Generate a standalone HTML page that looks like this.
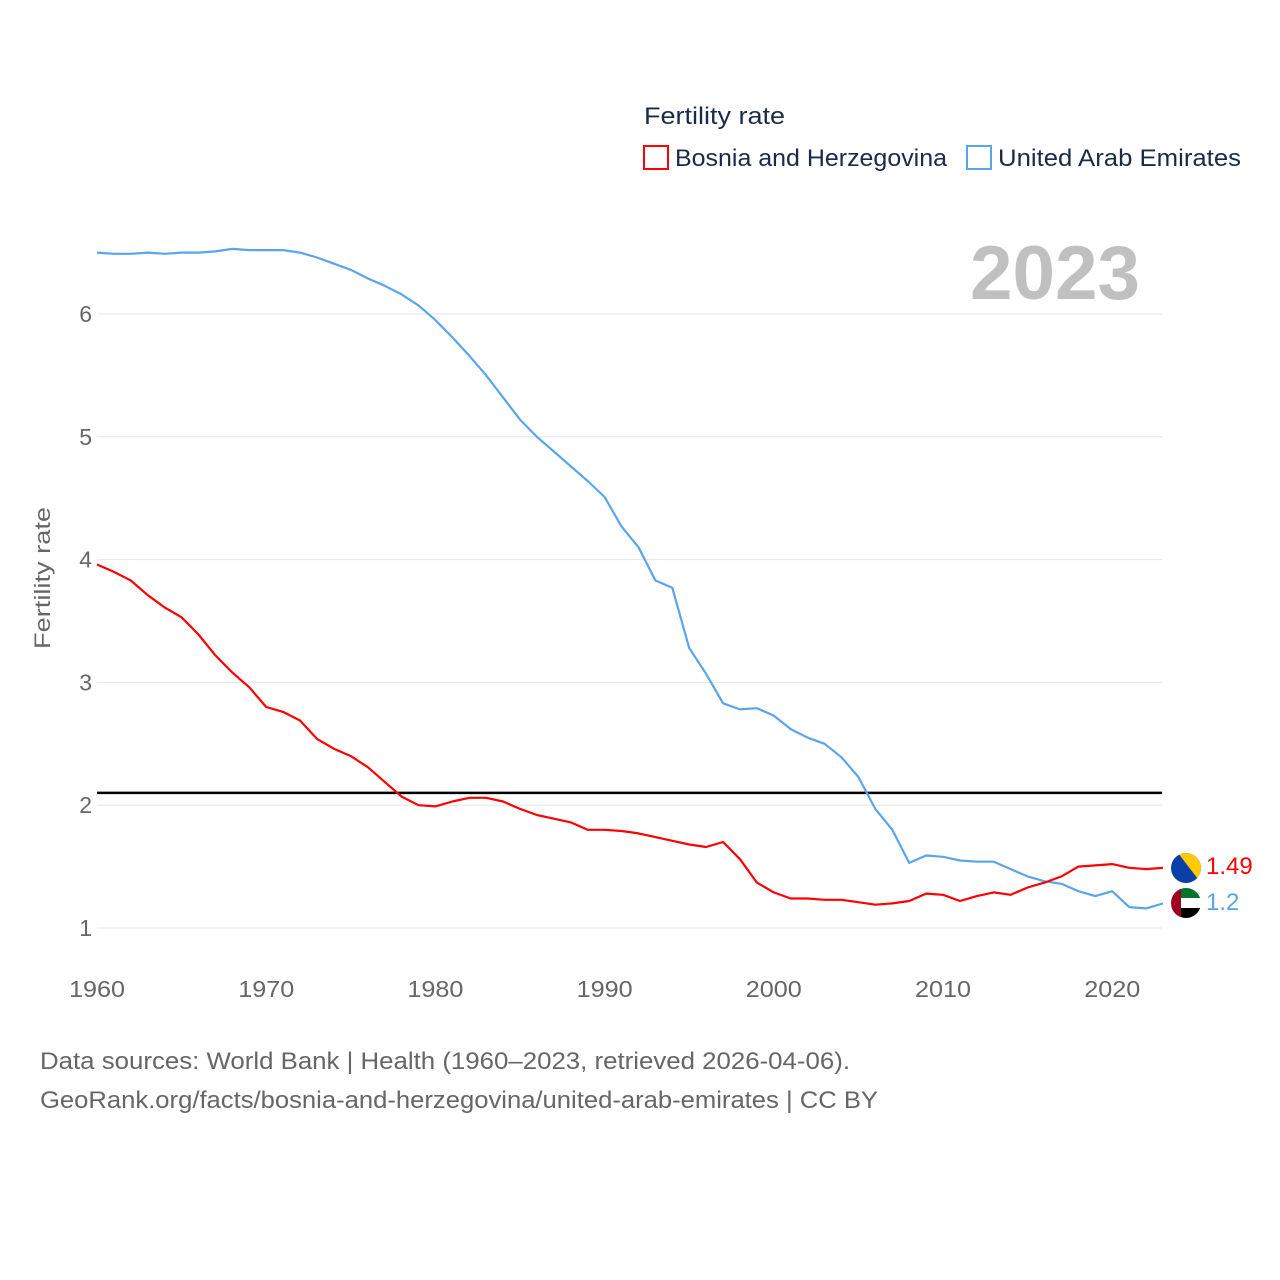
<!DOCTYPE html>
<html><head><meta charset="utf-8"><style>
html,body{margin:0;padding:0;background:#fff;}
svg{display:block;font-family:"Liberation Sans",sans-serif;}
</style></head><body>
<svg id="chart" width="1280" height="1280" viewBox="0 0 1280 1280">
<g id="grid"></g>
<g id="yticks"></g>
<g id="xticks"></g>
<text x="1140" y="299" text-anchor="end" font-size="76" font-weight="bold" fill="#c0c0c0" textLength="170" lengthAdjust="spacingAndGlyphs">2023</text>
<text transform="translate(50,578) rotate(-90)" text-anchor="middle" font-size="22" fill="#666" textLength="142" lengthAdjust="spacingAndGlyphs">Fertility rate</text>
<line id="refline" stroke="#000" stroke-width="2.5"></line>
<g id="series"></g>
<g>
<text x="644" y="124" font-size="24" fill="#1a2b4a" textLength="141" lengthAdjust="spacingAndGlyphs">Fertility rate</text>
<rect x="644" y="146" width="24" height="23" fill="none" stroke="#f00" stroke-width="2"></rect>
<text x="675" y="166" font-size="24" fill="#1a2b4a" textLength="272" lengthAdjust="spacingAndGlyphs">Bosnia and Herzegovina</text>
<rect x="967" y="146" width="24" height="23" fill="none" stroke="#5aa5ea" stroke-width="2"></rect>
<text x="998" y="166" font-size="24" fill="#1a2b4a" textLength="243" lengthAdjust="spacingAndGlyphs">United Arab Emirates</text>
</g>
<g>
<clipPath id="c1"><circle cx="1186" cy="868" r="15"/></clipPath>
<g clip-path="url(#c1)"><rect x="1171" y="853" width="30" height="30" fill="#0a3fa8"/><polygon points="1178,853 1201,853 1201,883" fill="#fecb00"/></g>
</g>
<g>
<clipPath id="c2"><circle cx="1186" cy="903" r="15"/></clipPath>
<g clip-path="url(#c2)"><rect x="1171" y="888" width="30" height="10" fill="#00732f"/><rect x="1171" y="898" width="30" height="10" fill="#fff"/><rect x="1171" y="908" width="30" height="10" fill="#000"/><rect x="1171" y="888" width="10" height="30" fill="#a00020"/></g>
</g>
<text id="lblB" x="1206" y="874" font-size="24" fill="#f00">1.49</text>
<text id="lblU" x="1206" y="910" font-size="24" fill="#5aa5ea">1.2</text>
<text x="40" y="1069" font-size="24" fill="#666" textLength="810" lengthAdjust="spacingAndGlyphs">Data sources: World Bank | Health (1960–2023, retrieved 2026-04-06).</text>
<text x="40" y="1108" font-size="24" fill="#666" textLength="838" lengthAdjust="spacingAndGlyphs">GeoRank.org/facts/bosnia-and-herzegovina/united-arab-emirates | CC BY</text>
</svg>
<script>
const years = [];
for (let y = 1960; y <= 2023; y++) years.push(y);
const bosnia = [3.96,3.90,3.83,3.71,3.61,3.53,3.39,3.22,3.08,2.96,2.80,2.76,2.69,2.54,2.46,2.40,2.31,2.19,2.07,2.00,1.99,2.03,2.06,2.06,2.03,1.97,1.92,1.89,1.86,1.80,1.80,1.79,1.77,1.74,1.71,1.68,1.66,1.70,1.56,1.37,1.29,1.24,1.24,1.23,1.23,1.21,1.19,1.20,1.22,1.28,1.27,1.22,1.26,1.29,1.27,1.33,1.37,1.42,1.50,1.51,1.52,1.49,1.48,1.49];
const uae = [6.50,6.49,6.49,6.50,6.49,6.50,6.50,6.51,6.53,6.52,6.52,6.52,6.50,6.46,6.41,6.36,6.29,6.23,6.16,6.07,5.95,5.81,5.66,5.50,5.32,5.14,5.00,4.88,4.76,4.64,4.51,4.27,4.10,3.83,3.77,3.28,3.07,2.83,2.78,2.79,2.73,2.62,2.55,2.50,2.39,2.23,1.97,1.80,1.53,1.59,1.58,1.55,1.54,1.54,1.48,1.42,1.38,1.36,1.30,1.26,1.30,1.17,1.16,1.20];
const yTicks = [1,2,3,4,5,6];
const xTicks = [1960,1970,1980,1990,2000,2010,2020];
const refValue = 2.1;
const NS = "http://www.w3.org/2000/svg";
const X = yr => 97 + (yr - 1960) * (1163 - 97) / 63;
const Y = v => 928 - (v - 1) * (928 - 314) / 5;
function mk(tag, attrs, parent) { const e = document.createElementNS(NS, tag); for (const k in attrs) e.setAttribute(k, attrs[k]); parent.appendChild(e); return e; }
const grid = document.getElementById('grid'), yt = document.getElementById('yticks'), xt = document.getElementById('xticks');
yTicks.forEach(t => {
  const l = mk('line', {x1: 97, x2: 1162, y1: Y(t), y2: Y(t), stroke: '#e6e6e6', 'stroke-width': 1}, grid);
  
  
  const tx = mk('text', {x: 92, y: Y(t) + 8, 'text-anchor': 'end', 'font-size': 23, fill: '#666'}, yt);
  tx.textContent = t;
  
  
});
xTicks.forEach(t => {
  const tx = mk('text', {x: X(t), y: 997, 'text-anchor': 'middle', 'font-size': 23, fill: '#666', textLength: 56, lengthAdjust: 'spacingAndGlyphs'}, xt);
  tx.textContent = t;
  
  
});
const rl = document.getElementById('refline');
rl.setAttribute('x1', 97); rl.setAttribute('x2', 1162); rl.setAttribute('y1', Y(refValue)); rl.setAttribute('y2', Y(refValue));
const sg = document.getElementById('series');
[[uae, '#5aa5ea', 'line-uae'], [bosnia, '#f00', 'line-bosnia']].forEach(([d, c, n]) => {
  const pts = d.map((v, i) => X(years[i]).toFixed(1) + ',' + Y(v).toFixed(1)).join(' ');
  const p = mk('polyline', {points: pts, fill: 'none', stroke: c, 'stroke-width': 2.2, 'stroke-linejoin': 'round'}, sg);
  
  
});
document.getElementById('lblB').textContent = bosnia[bosnia.length - 1];
document.getElementById('lblU').textContent = uae[uae.length - 1];
</script>
</body></html>
